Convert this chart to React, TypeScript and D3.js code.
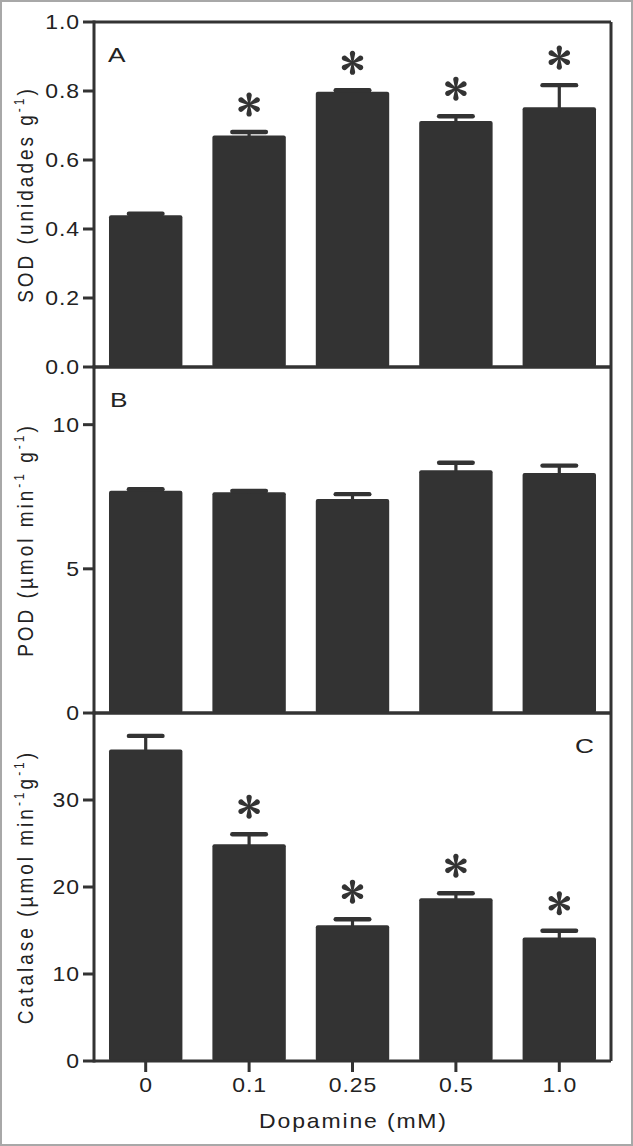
import React from "react";
import * as d3 from "d3";

const categories = ["0", "0.1", "0.25", "0.5", "1.0"];

const sodMeans = [0.44, 0.671, 0.798, 0.713, 0.753];
const sodErrors = [0.004, 0.01, 0.004, 0.014, 0.064];
const sodSig = [false, true, true, true, true];
const sodTicks = [0, 0.2, 0.4, 0.6, 0.8, 1.0];

const podMeans = [7.71, 7.66, 7.42, 8.42, 8.32];
const podErrors = [0.05, 0.04, 0.17, 0.26, 0.26];
const podSig = [false, false, false, false, false];
const podTicks = [0, 5, 10];

const catMeans = [35.8, 24.9, 15.6, 18.7, 14.2];
const catErrors = [1.57, 1.17, 0.7, 0.58, 0.77];
const catSig = [false, true, true, true, true];
const catTicks = [0, 10, 20, 30];

const W = 633;
const H = 1146;
const LEFT = 94;
const RIGHT = 611;
const INK = "#333333";
const TXT = "#222222";
const FONT = "'Liberation Sans', Arial, Helvetica, sans-serif";
const SX = 1.15;

type Panel = {
  letter: string;
  letterX: number;
  letterAnchor: "start" | "end";
  top: number;
  bottom: number;
  domain: [number, number];
  means: number[];
  errors: number[];
  sig: boolean[];
  ticks: number[];
  fmt: (v: number) => string;
  title: React.ReactNode;
};

const sup = (key: string) => (
  <tspan key={key} fontSize={12} dy={-8}>-1</tspan>
);

const panels: Panel[] = [
  {
    letter: "A", letterX: 108, letterAnchor: "start", top: 22, bottom: 367, domain: [0, 1],
    means: sodMeans, errors: sodErrors, sig: sodSig, ticks: sodTicks,
    fmt: (v) => v.toFixed(1),
    title: (
      <>
        <tspan>SOD (unidades g</tspan>
        {sup("a")}
        <tspan dy={8}>)</tspan>
      </>
    ),
  },
  {
    letter: "B", letterX: 110, letterAnchor: "start", top: 367, bottom: 713, domain: [0, 12],
    means: podMeans, errors: podErrors, sig: podSig, ticks: podTicks,
    fmt: (v) => String(v),
    title: (
      <>
        <tspan>POD (µmol min</tspan>
        {sup("a")}
        <tspan dy={8}> g</tspan>
        {sup("b")}
        <tspan dy={8}>)</tspan>
      </>
    ),
  },
  {
    letter: "C", letterX: 594, letterAnchor: "end", top: 713, bottom: 1061, domain: [0, 40],
    means: catMeans, errors: catErrors, sig: catSig, ticks: catTicks,
    fmt: (v) => String(v),
    title: (
      <>
        <tspan>Catalase (µmol min</tspan>
        {sup("a")}
        <tspan dy={8}>g</tspan>
        {sup("b")}
        <tspan dy={8}>)</tspan>
      </>
    ),
  },
];

const x = d3.scaleBand<string>().domain(categories).range([LEFT, RIGHT]).paddingInner(0.29).paddingOuter(0.145);

const petal = "M -0.8 0 L -2.5 -8.3 A 2.7 2.7 0 1 1 2.5 -8.3 L 0.8 0 Z";

function Asterisk({ cx, cy }: { cx: number; cy: number }) {
  return (
    <g transform={`translate(${cx},${cy})`}>
      {[0, 60, 120, 180, 240, 300].map((a) => (
        <path key={a} d={petal} transform={`rotate(${a})`} fill={INK} />
      ))}
    </g>
  );
}

function PanelView({ p }: { p: Panel }) {
  const y = d3.scaleLinear().domain(p.domain).range([p.bottom, p.top]);
  const bw = x.bandwidth();
  const cy = (p.top + p.bottom) / 2;
  return (
    <g>
      {p.means.map((m, i) => {
        const cat = categories[i];
        const x0 = x(cat)!;
        const cx = x0 + bw / 2;
        const yTop = y(m);
        const yErr = y(m + p.errors[i]);
        return (
          <g key={cat}>
            <rect x={x0} y={yTop} width={bw} height={p.bottom - yTop} rx={2} fill={INK} />
            <rect x={cx - 1.6} y={yErr} width={3.2} height={yTop - yErr + 1} fill={INK} />
            <rect x={cx - 19} y={yErr - 2.2} width={38} height={4.4} rx={2.2} fill={INK} />
            {p.sig[i] && <Asterisk cx={cx} cy={yErr - 27.5} />}
          </g>
        );
      })}
      <line x1={LEFT} x2={RIGHT} y1={p.top} y2={p.top} stroke={INK} strokeWidth={3} />
      <line x1={RIGHT} x2={RIGHT} y1={p.top} y2={p.bottom} stroke={INK} strokeWidth={3} />
      <line x1={LEFT} x2={LEFT} y1={p.top - 1.5} y2={p.bottom + 1.5} stroke={INK} strokeWidth={3} />
      <line x1={LEFT} x2={RIGHT} y1={p.bottom} y2={p.bottom} stroke={INK} strokeWidth={3} />
      {p.ticks.map((t) => (
        <g key={t}>
          <line x1={83} x2={LEFT} y1={y(t)} y2={y(t)} stroke={INK} strokeWidth={3} />
          <text
            transform={`translate(80,${y(t)}) scale(${SX},1)`}
            dy="0.36em"
            textAnchor="end"
            fontSize={20}
            letterSpacing={0.8}
            fill={TXT}
            fontFamily={FONT}
          >
            {p.fmt(t)}
          </text>
        </g>
      ))}
      <text
        transform={`translate(${p.letterX},${p.top + 40}) scale(1.25,1)`}
        textAnchor={p.letterAnchor}
        fontSize={21}
        fill={TXT}
        fontFamily={FONT}
      >
        {p.letter}
      </text>
      <text
        transform={`translate(33,${cy}) rotate(-90) scale(1,${SX})`}
        textAnchor="middle"
        fontSize={19}
        letterSpacing={3}
        fill={TXT}
        fontFamily={FONT}
      >
        {p.title}
      </text>
    </g>
  );
}

export default function App() {
  const bottom = panels[2].bottom;
  return (
    <svg
      width={W}
      height={H}
      viewBox={`0 0 ${W} ${H}`}
      style={{ position: "absolute", left: 0, top: 0, display: "block", background: "#fff" }}
    >
      <rect x={0} y={0} width={W} height={H} fill="#fff" />
      {panels.map((p) => (
        <PanelView key={p.letter} p={p} />
      ))}
      {categories.map((c) => {
        const cx = x(c)! + x.bandwidth() / 2;
        return (
          <g key={c}>
            <line x1={cx} x2={cx} y1={bottom} y2={bottom + 11} stroke={INK} strokeWidth={3} />
            <text
              transform={`translate(${cx + 0.5},${bottom + 31}) scale(${SX},1)`}
              textAnchor="middle"
              fontSize={20}
              letterSpacing={0.8}
              fill={TXT}
              fontFamily={FONT}
            >
              {c}
            </text>
          </g>
        );
      })}
      <text
        transform={`translate(${(LEFT + RIGHT) / 2 + 1},1128) scale(${SX},1)`}
        textAnchor="middle"
        fontSize={20}
        letterSpacing={1.6}
        fill={TXT}
        fontFamily={FONT}
      >
        Dopamine (mM)
      </text>
      <rect x={1} y={1} width={W - 2} height={H - 2} fill="none" stroke="#a8a8a8" strokeWidth={2} />
    </svg>
  );
}
